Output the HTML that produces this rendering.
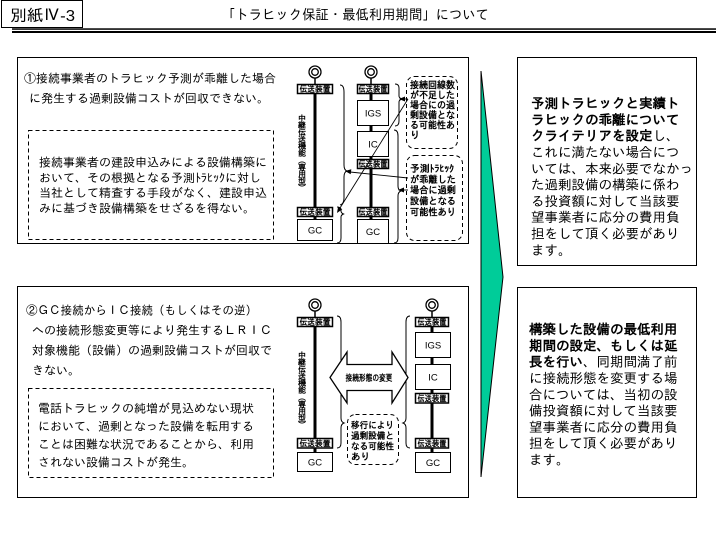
<!DOCTYPE html>
<html><head><meta charset="utf-8">
<style>
html,body{margin:0;padding:0;background:#fff;width:716px;height:538px;overflow:hidden;}
svg{display:block;}
text{font-family:"Liberation Sans","IPAGothic","Noto Sans CJK JP",sans-serif;fill:#000;}
.s{font-family:"IPAGothic","Noto Sans CJK JP",sans-serif;}
.lat{font-family:"Liberation Sans",sans-serif;}
</style></head><body>
<svg width="716" height="538" viewBox="0 0 716 538" xmlns="http://www.w3.org/2000/svg">
<rect x="0" y="0" width="716" height="538" fill="#fff"/>

<!-- header -->
<rect x="1.5" y="0.5" width="81" height="27" fill="#fff" stroke="#000" stroke-width="1"/>
<text x="10" y="21" font-size="16" textLength="65" lengthAdjust="spacingAndGlyphs">別紙Ⅳ-3</text>
<text class="s" x="222" y="19.5" font-size="14" textLength="267" lengthAdjust="spacingAndGlyphs">「トラヒック保証・最低利用期間」について</text>
<rect x="12" y="28.3" width="704" height="1.5" fill="#000"/>
<rect x="12" y="31" width="704" height="2" fill="#000"/>

<!-- panels -->
<rect x="17.5" y="57.5" width="451" height="186" fill="none" stroke="#000"/>
<rect x="17.5" y="286.5" width="451" height="211" fill="none" stroke="#000"/>
<rect x="517.5" y="57.5" width="179" height="208" fill="none" stroke="#000"/>
<rect x="517.5" y="287.5" width="179" height="210" fill="none" stroke="#000"/>

<!-- green arrow -->
<polygon points="481,71 503,277 481,477" fill="#00CC99" stroke="#000" stroke-width="1"/>

<!-- panel 1 text -->
<g class="s" font-size="12">
<text x="24" y="82.6">①接続事業者のトラヒック予測が乖離した場合</text>
<text x="29" y="102.6">に発生する過剰設備コストが回収できない。</text>
<text x="39" y="166.6">接続事業者の建設申込みによる設備構築に</text>
<text x="39" y="181.9">おいて、その根拠となる予測ﾄﾗﾋｯｸに対し</text>
<text x="39" y="197.2">当社として精査する手段がなく、建設申込</text>
<text x="39" y="212.5">みに基づき設備構築をせざるを得ない。</text>
</g>
<rect x="28.5" y="130.5" width="245" height="109" fill="none" stroke="#000" stroke-dasharray="4 3"/>

<!-- panel 2 text -->
<g class="s" font-size="12">
<text x="26" y="314.6" textLength="231" lengthAdjust="spacingAndGlyphs">②ＧＣ接続からＩＣ接続（もしくはその逆）</text>
<text x="32" y="334.6">への接続形態変更等により発生するＬＲＩＣ</text>
<text x="32" y="354.6">対象機能（設備）の過剰設備コストが回収で</text>
<text x="32" y="374.6">きない。</text>
<text x="38" y="412.6">電話トラヒックの純増が見込めない現状</text>
<text x="38" y="430.6">において、過剰となった設備を転用する</text>
<text x="38" y="448.6">ことは困難な状況であることから、利用</text>
<text x="38" y="466.6">されない設備コストが発生。</text>
</g>
<rect x="28.5" y="388.5" width="245" height="89" fill="none" stroke="#000" stroke-dasharray="4 3"/>

<!-- right box 1 text -->
<g class="s" font-size="13.5">
<text x="531" y="108.1" font-weight="bold">予測トラヒックと実績ト</text>
<text x="531" y="124.4" font-weight="bold">ラヒックの乖離について</text>
<text x="531" y="140.7"><tspan font-weight="bold">クライテリアを設定</tspan>し、</text>
<text x="531" y="157">これに満たない場合につ</text>
<text x="531" y="173.3">いては、本来必要でなかっ</text>
<text x="531" y="189.6">た過剰設備の構築に係わ</text>
<text x="531" y="205.9">る投資額に対して当該要</text>
<text x="531" y="222.2">望事業者に応分の費用負</text>
<text x="531" y="238.5">担をして頂く必要があり</text>
<text x="531" y="254.8">ます。</text>
</g>

<!-- right box 2 text -->
<g class="s" font-size="13.5">
<text x="529" y="334.1" font-weight="bold">構築した設備の最低利用</text>
<text x="529" y="350.4" font-weight="bold">期間の設定、もしくは延</text>
<text x="529" y="366.7"><tspan font-weight="bold">長を行い</tspan>、同期間満了前</text>
<text x="529" y="383">に接続形態を変更する場</text>
<text x="529" y="399.3">合については、当初の設</text>
<text x="529" y="415.6">備投資額に対して当該要</text>
<text x="529" y="431.9">望事業者に応分の費用負</text>
<text x="529" y="448.2">担をして頂く必要があり</text>
<text x="529" y="464.5">ます。</text>
</g>

<!-- ===== panel 1 diagram ===== -->
<g stroke="#000" fill="none">
  <circle cx="315" cy="72" r="6" stroke-width="1.3"/>
  <circle cx="315" cy="72" r="3.3" stroke-width="1.3"/>
  <line x1="315" y1="78" x2="315" y2="84" stroke-width="1.5"/>
  <line x1="315" y1="93" x2="315" y2="208" stroke-width="3"/>
  <line x1="315" y1="216" x2="315" y2="220" stroke-width="3"/>
  <rect x="297.5" y="84.5" width="35" height="9" stroke-width="1.5" fill="#fff"/>
  <rect x="297.5" y="207.5" width="35" height="9" stroke-width="1.5" fill="#fff"/>
  <rect x="297.5" y="219.5" width="35" height="21" stroke-width="1" fill="#fff"/>
  <circle cx="371" cy="72" r="6" stroke-width="1.3"/>
  <circle cx="371" cy="72" r="3.3" stroke-width="1.3"/>
  <line x1="371" y1="78" x2="371" y2="84" stroke-width="1.5"/>
  <line x1="371" y1="93" x2="371" y2="101" stroke-width="3"/>
  <line x1="371" y1="125" x2="371" y2="132" stroke-width="3"/>
  <line x1="371" y1="156" x2="371" y2="160" stroke-width="3"/>
  <line x1="371" y1="168" x2="371" y2="208" stroke-width="3"/>
  <line x1="371" y1="216" x2="371" y2="220" stroke-width="3"/>
  <rect x="357.5" y="84.5" width="31" height="9" stroke-width="1.5" fill="#fff"/>
  <rect x="357.5" y="100.5" width="31" height="25" stroke-width="1" fill="#fff"/>
  <rect x="357.5" y="131.5" width="31" height="25" stroke-width="1" fill="#fff"/>
  <rect x="357.5" y="159.5" width="31" height="9" stroke-width="1.5" fill="#fff"/>
  <rect x="357.5" y="207.5" width="31" height="9" stroke-width="1.5" fill="#fff"/>
  <rect x="357.5" y="219.5" width="31" height="24" stroke-width="1" fill="#fff"/>
  <path d="M340,85 Q344,85 344,92 L344,165 Q344,170 347,171 Q344,172 344,177 L344,198 Q344,204 340,205" stroke-width="1"/>
  <path d="M337,207 Q341,207 341,210 L341,211 Q341,213 343.5,214 Q341,215 341,217 L341,238 Q341,243 337,243" stroke-width="1"/>
  <path d="M395,84 Q399,84 399,88 L399,96 Q399,98 402,99 Q399,100 399,102 L399,121 Q399,126 395,126" stroke-width="1"/>
  <path d="M394,130 Q398,130 398,136 L398,186 Q398,190 401,191 Q398,192 398,196 L398,238 Q398,243 394,243" stroke-width="1"/>
  <rect x="406.5" y="76.5" width="51" height="72" rx="8" stroke-width="1" stroke-dasharray="4 3"/>
  <rect x="406.5" y="155.5" width="56" height="85" rx="8" stroke-width="1" stroke-dasharray="4 3"/>
  <line x1="408" y1="99" x2="340" y2="208" stroke-width="0.9"/>
  <line x1="408" y1="178" x2="350" y2="172" stroke-width="0.9"/>
  <line x1="408" y1="99" x2="404" y2="99" stroke-width="0.9"/>
  <line x1="408" y1="190" x2="403" y2="190" stroke-width="0.9"/>
</g>
<g fill="#000">
  <polygon points="337,213 342.3,209.2 338.1,206.6"/>
  <polygon points="345,171 351.3,169.2 350.7,174.2"/>
  <polygon points="399,99 405,96.5 405,101.5"/>
  <polygon points="398,190 404,187.5 404,192.5"/>
</g>
<g class="s" font-size="8.5" font-weight="bold" text-anchor="middle">
  <text x="315" y="92" textLength="31" lengthAdjust="spacingAndGlyphs">伝送装置</text>
  <text x="315" y="215" textLength="31" lengthAdjust="spacingAndGlyphs">伝送装置</text>
  <text x="373" y="92" textLength="29" lengthAdjust="spacingAndGlyphs">伝送装置</text>
  <text x="373" y="167" textLength="29" lengthAdjust="spacingAndGlyphs">伝送装置</text>
  <text x="373" y="215" textLength="29" lengthAdjust="spacingAndGlyphs">伝送装置</text>
</g>
<g class="lat" font-size="9.5" text-anchor="middle">
  <text x="373" y="116.5">IGS</text>
  <text x="373" y="147.5">IC</text>
  <text x="315" y="233.5">GC</text>
  <text x="373" y="235">GC</text>
</g>
<g class="s" font-size="8" font-weight="bold" text-anchor="middle">
  <text x="302" y="121">中</text>
  <text x="302" y="128">継</text>
  <text x="302" y="135">伝</text>
  <text x="302" y="142">送</text>
  <text x="302" y="149">機</text>
  <text x="302" y="156">能</text>
  <text x="302" y="163">︵</text>
  <text x="302" y="170">専</text>
  <text x="302" y="177">用</text>
  <text x="302" y="184">型</text>
  <text x="302" y="191">︶</text>
</g>
<g class="s" font-size="10" font-weight="bold">
  <text x="410" y="88.6" textLength="45" lengthAdjust="spacingAndGlyphs">接続回線数</text>
  <text x="410" y="98.6" textLength="45" lengthAdjust="spacingAndGlyphs">が不足した</text>
  <text x="410" y="108.6" textLength="45" lengthAdjust="spacingAndGlyphs">場合にの過</text>
  <text x="410" y="118.6" textLength="45" lengthAdjust="spacingAndGlyphs">剰設備とな</text>
  <text x="410" y="128.6" textLength="45" lengthAdjust="spacingAndGlyphs">る可能性あ</text>
  <text x="410" y="138.6">り</text>
  <text x="410" y="172" textLength="44" lengthAdjust="spacingAndGlyphs">予測ﾄﾗﾋｯｸ</text>
  <text x="410" y="183" textLength="46" lengthAdjust="spacingAndGlyphs">が乖離した</text>
  <text x="410" y="193.7" textLength="46" lengthAdjust="spacingAndGlyphs">場合に過剰</text>
  <text x="410" y="204.4" textLength="46" lengthAdjust="spacingAndGlyphs">設備となる</text>
  <text x="410" y="215.4" textLength="46" lengthAdjust="spacingAndGlyphs">可能性あり</text>
</g>

<!-- ===== panel 2 diagram ===== -->
<g stroke="#000" fill="none">
  <circle cx="315" cy="305" r="6" stroke-width="1.3"/>
  <circle cx="315" cy="305" r="3.3" stroke-width="1.3"/>
  <line x1="315" y1="311" x2="315" y2="317" stroke-width="1.5"/>
  <line x1="315" y1="326" x2="315" y2="439" stroke-width="3"/>
  <line x1="315" y1="447" x2="315" y2="453" stroke-width="3"/>
  <rect x="297.5" y="317.5" width="35" height="9" stroke-width="1.5" fill="#fff"/>
  <rect x="297.5" y="438.5" width="35" height="9.5" stroke-width="1.5" fill="#fff"/>
  <rect x="297.5" y="452.5" width="35" height="19" stroke-width="1" fill="#fff"/>
  <circle cx="432" cy="305" r="6" stroke-width="1.3"/>
  <circle cx="432" cy="305" r="3.3" stroke-width="1.3"/>
  <line x1="432" y1="311" x2="432" y2="317" stroke-width="1.5"/>
  <line x1="432" y1="326" x2="432" y2="333" stroke-width="3"/>
  <line x1="432" y1="357" x2="432" y2="365" stroke-width="3"/>
  <line x1="432" y1="389" x2="432" y2="394" stroke-width="3"/>
  <line x1="432" y1="402" x2="432" y2="439" stroke-width="3"/>
  <line x1="432" y1="447" x2="432" y2="453" stroke-width="3"/>
  <rect x="415.5" y="317.5" width="33" height="9" stroke-width="1.5" fill="#fff"/>
  <rect x="415.5" y="332.5" width="35" height="25" stroke-width="1" fill="#fff"/>
  <rect x="415.5" y="364.5" width="35" height="25" stroke-width="1" fill="#fff"/>
  <rect x="415.5" y="393.5" width="33" height="9.5" stroke-width="1.5" fill="#fff"/>
  <rect x="415.5" y="438.5" width="33" height="9.5" stroke-width="1.5" fill="#fff"/>
  <rect x="415.5" y="452.5" width="35" height="20" stroke-width="1" fill="#fff"/>
  <path d="M337,316 Q341,316 341,322 L341,418 Q341,422 344,423 Q341,424 341,428 L341,443 Q341,448 337,448" stroke-width="1"/>
  <path d="M410,316 Q406,316 406,322 L406,418 Q406,422 403,423 Q406,424 406,428 L406,443 Q406,448 410,448" stroke-width="1"/>
  <polygon points="330,377.5 347,352 347,364.5 392,364.5 392,352 408,377.5 392,403 392,390.5 347,390.5 347,403" fill="#fff" stroke-width="1.3"/>
  <rect x="347.5" y="414.5" width="51" height="50" rx="8" stroke-width="1" stroke-dasharray="4 3" fill="#fff"/>
</g>
<g class="s" font-size="8.5" font-weight="bold" text-anchor="middle">
  <text x="315" y="325" textLength="31" lengthAdjust="spacingAndGlyphs">伝送装置</text>
  <text x="315" y="446.3" textLength="31" lengthAdjust="spacingAndGlyphs">伝送装置</text>
  <text x="432" y="325" textLength="29" lengthAdjust="spacingAndGlyphs">伝送装置</text>
  <text x="432" y="401.3" textLength="29" lengthAdjust="spacingAndGlyphs">伝送装置</text>
  <text x="432" y="446.3" textLength="29" lengthAdjust="spacingAndGlyphs">伝送装置</text>
</g>
<g class="s" font-size="9" font-weight="bold" text-anchor="middle">
  <text x="369" y="381" textLength="47" lengthAdjust="spacingAndGlyphs">接続形態の変更</text>
</g>
<g class="lat" font-size="9.5" text-anchor="middle">
  <text x="433" y="348.5">IGS</text>
  <text x="433" y="380.5">IC</text>
  <text x="315" y="465.5">GC</text>
  <text x="433" y="466">GC</text>
</g>
<g class="s" font-size="8" font-weight="bold" text-anchor="middle">
  <text x="302" y="358">中</text>
  <text x="302" y="365">継</text>
  <text x="302" y="372">伝</text>
  <text x="302" y="379">送</text>
  <text x="302" y="386">機</text>
  <text x="302" y="393">能</text>
  <text x="302" y="400">︵</text>
  <text x="302" y="407">専</text>
  <text x="302" y="414">用</text>
  <text x="302" y="421">型</text>
  <text x="302" y="428">︶</text>
</g>
<g class="s" font-size="9.5" font-weight="bold">
  <text x="351" y="428.4" textLength="43" lengthAdjust="spacingAndGlyphs">移行により</text>
  <text x="351" y="438.9" textLength="43" lengthAdjust="spacingAndGlyphs">過剰設備と</text>
  <text x="351" y="449.4" textLength="43" lengthAdjust="spacingAndGlyphs">なる可能性</text>
  <text x="351" y="459.9">あり</text>
</g>
</svg>
</body></html>
